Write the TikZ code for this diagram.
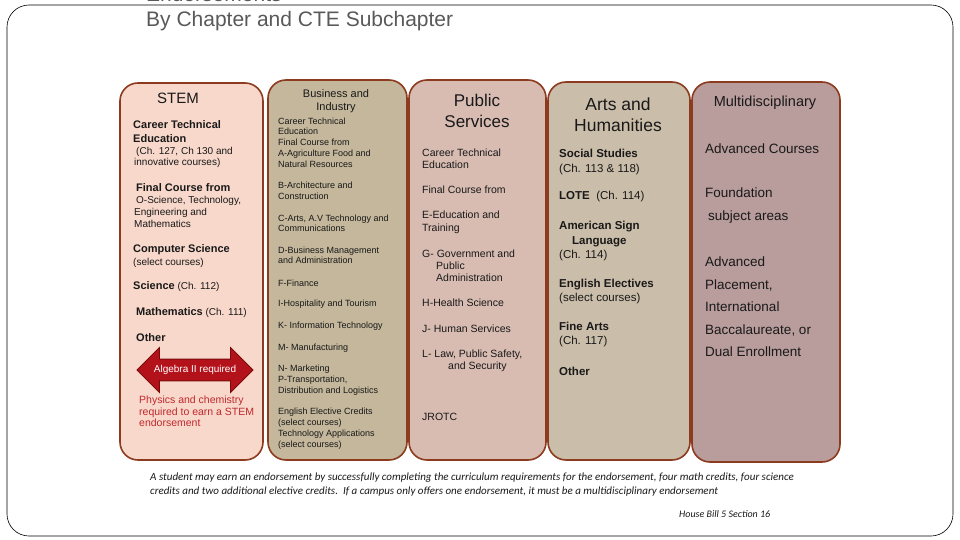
\documentclass[tikz,border=0pt]{standalone}
\usepackage{fontspec}
\setmainfont{Liberation Sans}
\newfontfamily\notefont{Carlito}
\usetikzlibrary{shapes.arrows}
\definecolor{edge}{HTML}{8C3B1F}
\definecolor{stemfill}{HTML}{F8D8CB}
\definecolor{busfill}{HTML}{C4B79B}
\definecolor{pubfill}{HTML}{D8BCB2}
\definecolor{artsfill}{HTML}{CABDA9}
\definecolor{multifill}{HTML}{B99C9C}
\definecolor{algred}{HTML}{B4121B}
\definecolor{algdark}{HTML}{7A0A0A}
\definecolor{notered}{HTML}{C0282D}
\definecolor{titlegray}{HTML}{595959}
\newcommand{\fs}[2]{\fontsize{#1}{#2}\selectfont}
\begin{document}
\begin{tikzpicture}[x=1pt,y=-1pt]
    \tikzstyle{panel}=[draw=edge, line width=1.6pt, rounded corners=18pt]
    \tikzstyle{txt}=[anchor=west, inner sep=0pt, align=left, text=black!90]
    \tikzstyle{head}=[inner sep=0pt, align=center, text=black!90]
    \useasboundingbox (0,0) rectangle (960,540);
    % frame and title
    \draw[rounded corners=22pt, line width=0.6pt] (7,5) rectangle (953,536);
    \node[anchor=base west, inner sep=0pt, text=titlegray, font=\fs{21}{24}] (main) at (146,2) {Endorsements};
    \node[anchor=west, inner sep=0pt, text=titlegray, font=\fs{21}{24}] (sub) at (146,21) {By Chapter and CTE Subchapter};
    % panels
    \draw[panel, fill=stemfill] (120,83) rectangle (263,460);
    \draw[panel, fill=busfill] (268,80) rectangle (407,460);
    \draw[panel, fill=pubfill] (409,80) rectangle (546,460);
    \draw[panel, fill=artsfill] (548,82) rectangle (690,460);
    \draw[panel, fill=multifill] (692,82) rectangle (840,462);
    % STEM
    \node[head, font=\fs{15}{18}] (stemt) at (178,98) {STEM};
    \node[txt, font=\fs{11}{14}\bfseries] (stem1) at (133,132) {Career Technical\\Education};
    \node[txt, font=\fs{10}{11.5}] (stem2) at (134,157.5) {\hspace*{2pt}(Ch. 127, Ch 130 and\\innovative courses)};
    \node[txt, font=\fs{11}{14}\bfseries] (stem3) at (136,188) {Final Course from};
    \node[txt, font=\fs{10}{12}] (stem4) at (134,212) {\hspace*{2pt}O-Science, Technology,\\Engineering and\\Mathematics};
    \node[txt, font=\fs{11}{14}\bfseries] (stem5) at (133,250) {Computer Science};
    \node[txt, font=\fs{10}{12}] (stem6) at (133,263) {(select courses)};
    \node[txt, font=\fs{10}{12}] (stem7) at (133,287) {{\fs{11}{14}\bfseries Science} (Ch. 112)};
    \node[txt, font=\fs{10}{12}] (stem8) at (136,313) {{\fs{11}{14}\bfseries Mathematics} (Ch. 111)};
    \node[txt, font=\fs{11}{14}\bfseries] (stem9) at (136,338) {Other};
    \node[double arrow, fill=algred, draw=algdark, line width=0.8pt, text=white,
          minimum height=116pt, minimum width=45pt, double arrow head extend=9pt,
          font=\fs{10}{12}] (alg) at (195,370) {Algebra II required};
    \node[txt, text=notered, font=\fs{10.5}{11.5}] (stemnote) at (139,411.5) {Physics and chemistry\\required to earn a STEM\\endorsement};
    % Business and Industry
    \node[head, font=\fs{11}{13}] (bust) at (336,101.5) {Business and\\Industry};
    \node[txt, font=\fs{9}{10.75}] (bus1) at (278,142.5) {Career Technical\\Education\\Final Course from\\A-Agriculture Food and\\Natural Resources};
    \node[txt, font=\fs{9}{10.5}] (bus2) at (278,191) {B-Architecture and\\Construction};
    \node[txt, font=\fs{9}{10.5}] (bus3) at (278,223.5) {C-Arts, A.V Technology and\\Communications};
    \node[txt, font=\fs{9}{10.5}] (bus4) at (278,255.5) {D-Business Management\\and Administration};
    \node[txt, font=\fs{9}{10.5}] (bus5) at (278,283) {F-Finance};
    \node[txt, font=\fs{9}{10.5}] (bus6) at (278,304) {I-Hospitality and Tourism};
    \node[txt, font=\fs{9}{10.5}] (bus7) at (278,326) {K- Information Technology};
    \node[txt, font=\fs{9}{10.5}] (bus8) at (278,348) {M- Manufacturing};
    \node[txt, font=\fs{9}{11}] (bus9) at (278,380) {N- Marketing\\P-Transportation,\\Distribution and Logistics};
    \node[txt, font=\fs{9}{11}] (bus10) at (278,428.5) {English Elective Credits\\(select courses)\\Technology Applications\\(select courses)};
    % Public Services
    \node[head, font=\fs{17}{21}] (pubt) at (477,110.5) {Public\\Services};
    \node[txt, font=\fs{10.5}{12}] (pub1) at (422,159) {Career Technical\\Education};
    \node[txt, font=\fs{10.5}{12}] (pub2) at (422,190) {Final Course from};
    \node[txt, font=\fs{10.5}{13}] (pub3) at (422,222.5) {E-Education and\\Training};
    \node[txt, font=\fs{10.5}{12}] (pub4) at (422,266) {G- Government and\\\hspace*{14pt}Public\\\hspace*{14pt}Administration};
    \node[txt, font=\fs{10.5}{12}] (pub5) at (422,303) {H-Health Science};
    \node[txt, font=\fs{10.5}{12}] (pub6) at (422,329) {J- Human Services};
    \node[txt, font=\fs{10.5}{12}] (pub7) at (422,361) {L- Law, Public Safety,\\\hspace*{26pt}and Security};
    \node[txt, font=\fs{10.5}{12}] (pub8) at (422,417) {JROTC};
    % Arts and Humanities
    \node[head, font=\fs{17.5}{21}] (artst) at (618,114.5) {Arts and\\Humanities};
    \node[txt, font=\fs{11.5}{15}] (arts1) at (559,162.5) {\textbf{Social Studies}\\(Ch. 113 \& 118)};
    \node[txt, font=\fs{11.5}{15}] (arts2) at (559,197) {\textbf{LOTE}\ \ (Ch. 114)};
    \node[txt, font=\fs{11.5}{14.5}] (arts3) at (559,241.5) {\textbf{American Sign}\\\hspace*{13pt}\textbf{Language}\\(Ch. 114)};
    \node[txt, font=\fs{11.5}{14}] (arts4) at (559,292) {\textbf{English Electives}\\(select courses)};
    \node[txt, font=\fs{11.5}{14}] (arts5) at (559,335) {\textbf{Fine Arts}\\(Ch. 117)};
    \node[txt, font=\fs{11.5}{14}\bfseries] (arts6) at (559,371) {Other};
    % Multidisciplinary
    \node[head, font=\fs{14.5}{17}] (multit) at (765,103) {Multidisciplinary};
    \node[txt, font=\fs{13.5}{23}] (multi1) at (705,149) {Advanced Courses};
    \node[txt, font=\fs{13.5}{23}] (multi2) at (705,205.5) {Foundation\\\hspace*{3pt}subject areas};
    \node[txt, font=\fs{13.5}{22.5}] (multi3) at (705,307) {Advanced\\Placement,\\International\\Baccalaureate, or\\Dual Enrollment};
    % footnote
    \node[txt, font=\notefont\itshape\fs{11}{14}] (note) at (150,485) {A student may earn an endorsement by successfully completing the curriculum requirements for the endorsement, four math credits, four science\\credits and two additional elective credits.\ \ If a campus only offers one endorsement, it must be a multidisciplinary endorsement};
    \node[txt, font=\notefont\itshape\fs{10}{12}] (bill) at (679,514) {House Bill 5 Section 16};
  \end{tikzpicture}
\end{document}
